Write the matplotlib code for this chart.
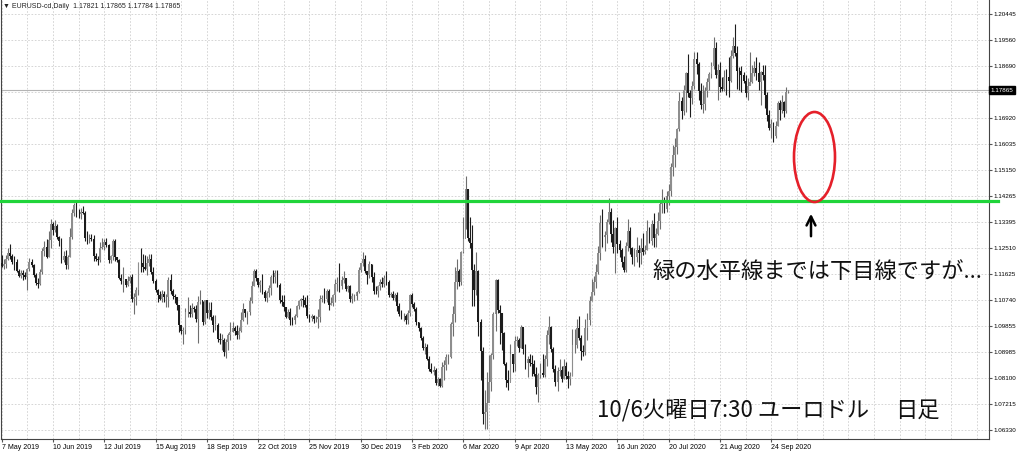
import matplotlib
matplotlib.use("Agg")
import matplotlib.pyplot as plt
import matplotlib.transforms as mtransforms
from matplotlib.patches import Ellipse
import numpy as np

# ── data (EURUSD daily, 7 May 2019 .. 6 Oct 2020, prices in 1e-4) ──────────

first_open = 11200

closes = [
    # May 2019
    11191, 11196, 11214, 11233, 11224, 11205, 11203, 11173, 11157, 11165,
    11160, 11151, 11181, 11203, 11193, 11159, 11131, 11130, 11169,
    # Jun 2019
    11240, 11253, 11221, 11277, 11334, 11313, 11327, 11290, 11274, 11210,
    11223, 11194, 11222, 11290, 11369, 11398, 11367, 11366, 11372, 11370,
    # Jul 2019
    11286, 11284, 11285, 11283, 11225, 11213, 11209, 11252, 11254, 11271,
    11261, 11210, 11224, 11275, 11219, 11209, 11150, 11139, 11146, 11127,
    11140, 11153, 11077,
    # Aug 2019
    11084, 11108, 11200, 11199, 11188, 11180, 11201, 11215, 11170, 11139,
    11107, 11090, 11078, 11095, 11083, 11083, 11143, 11106, 11089, 11085,
    11057, 10988,
    # Sep 2019
    10970, 10973, 11033, 11033, 11027, 11047, 11043, 11009, 11066, 11073,
    11001, 11073, 11029, 11041, 11017, 10991, 10991, 10941, 10940, 10940,
    10899,
    # Oct 2019
    10933, 10957, 10967, 10978, 10970, 10955, 10970, 11006, 11043, 11029,
    11034, 11072, 11123, 11172, 11149, 11125, 11136, 11103, 11080, 11098,
    11116, 11153, 11152,
    # Nov 2019
    11166, 11127, 11074, 11068, 11051, 11018, 11032, 11007, 11006, 11021,
    11053, 11071, 11078, 11073, 11058, 11021, 11013, 11019, 11009, 11010,
    11018,
    # Dec 2019
    11079, 11081, 11078, 11104, 11058, 11064, 11092, 11130, 11130, 11122,
    11143, 11150, 11111, 11122, 11078, 11088, 11089, 11100, 11177, 11199,
    11212,
    # Jan 2020
    11172, 11160, 11195, 11151, 11106, 11104, 11121, 11135, 11128, 11150,
    11136, 11090, 11095, 11082, 11091, 11055, 11026, 11019, 11020, 11008,
    11031, 11093,
    # Feb 2020
    11060, 11044, 10998, 10980, 10945, 10910, 10915, 10873, 10841, 10830,
    10838, 10791, 10805, 10783, 10848, 10853, 10881, 10882, 10992, 11026,
    # Mar 2020
    11137, 11174, 11135, 11238, 11283, 11450, 11285, 11269, 11176, 11108,
    11173, 10998, 10902, 10688, 10695, 10723, 10797, 10886, 11028, 11141,
    11040, 11029,
    # Apr 2020
    10962, 10856, 10804, 10793, 10892, 10856, 10935, 10940, 10913, 10984,
    10907, 10861, 10874, 10862, 10856, 10822, 10778, 10819, 10826, 10820,
    10873, 10955,
    # May 2020
    10982, 10908, 10840, 10795, 10835, 10838, 10806, 10850, 10818, 10805,
    10818, 10920, 10921, 10979, 10947, 10902, 10898, 10979, 11008, 11072,
    11101,
    # Jun 2020
    11135, 11170, 11233, 11337, 11290, 11294, 11340, 11372, 11297, 11256,
    11318, 11265, 11243, 11205, 11177, 11257, 11308, 11250, 11219, 11219,
    11245, 11233,
    # Jul 2020
    11251, 11238, 11245, 11309, 11276, 11331, 11286, 11300, 11343, 11400,
    11410, 11383, 11428, 11443, 11526, 11568, 11595, 11654, 11750, 11715,
    11789, 11846, 11777,
    # Aug 2020
    11761, 11800, 11892, 11875, 11785, 11736, 11739, 11785, 11813, 11842,
    11870, 11931, 11837, 11857, 11797, 11792, 11832, 11830, 11818, 11904,
    11936,
    # Sep 2020
    11914, 11853, 11852, 11838, 11819, 11776, 11800, 11813, 11846, 11862,
    11845, 11815, 11848, 11838, 11770, 11704, 11658, 11672, 11631, 11664,
    11745, 11719,
    # Oct 2020
    11746, 11717, 11782, 11787,
]

highs = [
    11226, 11215, 11228, 11252, 11264, 11230, 11223, 11214, 11180, 11175,
    11175, 11170, 11184, 11216, 11215, 11197, 11166, 11150, 11180,
    11252, 11276, 11283, 11309, 11348, 11338, 11347, 11334, 11292, 11284,
    11240, 11244, 11226, 11318, 11384, 11403, 11412, 11385, 11388, 11392,
    11375, 11310, 11300, 11299, 11294, 11233, 11225, 11273, 11286, 11280,
    11286, 11265, 11228, 11282, 11283, 11222, 11212, 11163, 11187, 11147,
    11155, 11160, 11164,
    11099, 11117, 11205, 11250, 11230, 11227, 11225, 11231, 11231, 11187,
    11146, 11112, 11104, 11109, 11106, 11095, 11153, 11163, 11112, 11095,
    11084, 11054,
    10985, 10982, 11048, 11084, 11058, 11064, 11055, 11057, 11087, 11109,
    11070, 11075, 11076, 11069, 11069, 11025, 11025, 10997, 10961, 10960,
    10945,
    10943, 10963, 10999, 10999, 10986, 10990, 10984, 11034, 11063, 11045,
    11038, 11086, 11140, 11179, 11179, 11150, 11141, 11163, 11110, 11106,
    11126, 11160, 11175,
    11177, 11176, 11132, 11092, 11093, 11052, 11044, 11047, 11016, 11027,
    11058, 11074, 11082, 11090, 11086, 11093, 11027, 11028, 11025, 11020,
    11043,
    11090, 11092, 11116, 11111, 11111, 11086, 11096, 11145, 11154, 11199,
    11155, 11174, 11150, 11126, 11126, 11098, 11095, 11104, 11188, 11201,
    11239,
    11226, 11174, 11206, 11196, 11171, 11122, 11125, 11145, 11153, 11159,
    11173, 11143, 11103, 11106, 11097, 11101, 11063, 11042, 11030, 11027,
    11042, 11096,
    11097, 11069, 11049, 11001, 10982, 10952, 10927, 10926, 10884, 10862,
    10849, 10844, 10814, 10808, 10863, 10870, 10892, 10892, 11000, 11053,
    11186, 11213, 11181, 11240, 11356, 11496, 11450, 11356, 11329, 11197,
    11237, 11176, 11010, 10914, 10768, 10829, 10888, 10896, 11034, 11147,
    11146, 11059,
    11030, 10967, 10865, 10837, 10926, 10890, 10952, 10952, 10944, 10990,
    10979, 10926, 10885, 10892, 10887, 10869, 10848, 10827, 10859, 10892,
    10887, 10973,
    11019, 10985, 10916, 10852, 10846, 10875, 10850, 10874, 10864, 10832,
    10831, 10976, 10976, 11009, 11020, 10957, 10920, 11009, 11030, 11088,
    11146,
    11155, 11196, 11258, 11362, 11384, 11309, 11349, 11422, 11387, 11346,
    11321, 11355, 11278, 11250, 11225, 11270, 11349, 11322, 11256, 11250,
    11289, 11260,
    11285, 11302, 11260, 11346, 11321, 11345, 11371, 11319, 11374, 11411,
    11452, 11424, 11443, 11468, 11540, 11601, 11624, 11660, 11781, 11763,
    11806, 11848, 11909,
    11788, 11819, 11916, 11917, 11884, 11810, 11806, 11799, 11829, 11849,
    11883, 11966, 11951, 11877, 11884, 11832, 11855, 11860, 11900, 11924,
    11966,
    12011, 11938, 11866, 11869, 11850, 11838, 11829, 11917, 11872, 11887,
    11900, 11882, 11851, 11873, 11872, 11780, 11720, 11688, 11679, 11682,
    11750, 11753,
    11770, 11750, 11798, 11787,
]

lows = [
    11187, 11178, 11182, 11209, 11213, 11196, 11176, 11170, 11152, 11150,
    11142, 11145, 11107, 11172, 11186, 11152, 11125, 11116, 11126,
    11164, 11224, 11216, 11221, 11252, 11294, 11305, 11282, 11259, 11200,
    11203, 11181, 11180, 11220, 11282, 11361, 11355, 11353, 11349, 11365,
    11276, 11265, 11268, 11275, 11207, 11206, 11193, 11204, 11247, 11245,
    11255, 11201, 11200, 11210, 11206, 11202, 11146, 11128, 11101, 11120,
    11122, 11132, 11067,
    11027, 11059, 11091, 11170, 11168, 11175, 11160, 11190, 11164, 11133,
    11100, 11066, 11075, 11066, 11066, 11050, 11052, 11094, 11077, 11065,
    11042, 10965,
    10958, 10926, 10960, 11015, 11015, 11017, 11032, 10998, 10927, 11060,
    10990, 10994, 11013, 11011, 11006, 10966, 10974, 10932, 10925, 10903,
    10885,
    10879, 10903, 10939, 10965, 10955, 10941, 10942, 10967, 11002, 11017,
    10993, 11023, 11065, 11123, 11139, 11118, 11100, 11094, 11072, 11067,
    11086, 11092, 11132,
    11132, 11120, 11064, 11055, 11036, 11013, 11013, 10989, 10989, 10992,
    11015, 11045, 11053, 11051, 11052, 11014, 10999, 11004, 10997, 10998,
    10981,
    11000, 11066, 11065, 11069, 11040, 11056, 11055, 11066, 11105, 11103,
    11113, 11133, 11106, 11100, 11066, 11065, 11072, 11074, 11097, 11170,
    11190,
    11165, 11128, 11150, 11135, 11095, 11096, 11085, 11110, 11117, 11118,
    11125, 11086, 11083, 11073, 11071, 11036, 11019, 11010, 11003, 10993,
    10992, 11019,
    11052, 11038, 10991, 10969, 10939, 10904, 10890, 10869, 10832, 10827,
    10820, 10787, 10784, 10778, 10780, 10802, 10838, 10858, 10876, 10952,
    11000, 11111, 11123, 11127, 11234, 11317, 11275, 11252, 11055, 11054,
    11091, 10953, 10802, 10654, 10636, 10636, 10743, 10766, 10874, 10969,
    11030, 10925,
    10905, 10853, 10779, 10768, 10800, 10830, 10832, 10917, 10897, 10913,
    10890, 10841, 10812, 10849, 10816, 10815, 10756, 10727, 10808, 10812,
    10813, 10850,
    10925, 10897, 10830, 10782, 10766, 10817, 10795, 10806, 10806, 10775,
    10787, 10815, 10895, 10912, 10938, 10871, 10885, 10887, 10939, 10988,
    11070,
    11093, 11115, 11164, 11209, 11254, 11241, 11268, 11334, 11270, 11234,
    11167, 11233, 11220, 11188, 11168, 11168, 11241, 11231, 11197, 11189,
    11202, 11188,
    11196, 11226, 11232, 11243, 11269, 11262, 11254, 11255, 11296, 11315,
    11370, 11371, 11372, 11397, 11426, 11495, 11525, 11569, 11648, 11690,
    11703, 11712, 11763,
    11696, 11741, 11792, 11842, 11753, 11722, 11711, 11718, 11764, 11788,
    11829, 11859, 11828, 11753, 11781, 11785, 11783, 11772, 11764, 11813,
    11896,
    11904, 11790, 11789, 11781, 11810, 11765, 11752, 11806, 11810, 11834,
    11823, 11788, 11737, 11820, 11728, 11683, 11650, 11626, 11612, 11623,
    11666, 11684,
    11708, 11695, 11708, 11778,
]

date_bars = [0, 24, 48, 72, 96, 120, 144, 168, 192, 216, 240, 264, 288, 312, 336, 360]
date_labels = ["7 May 2019", "10 Jun 2019", "12 Jul 2019", "15 Aug 2019",
               "18 Sep 2019", "22 Oct 2019", "25 Nov 2019", "30 Dec 2019",
               "3 Feb 2020", "6 Mar 2020", "9 Apr 2020", "13 May 2020",
               "16 Jun 2020", "20 Jul 2020", "21 Aug 2020", "24 Sep 2020"]

price_levels = [1.20445, 1.19560, 1.18690, 1.17805, 1.16920, 1.16035, 1.15150,
                1.14265, 1.13395, 1.12510, 1.11625, 1.10740, 1.09855, 1.08985,
                1.08100, 1.07215, 1.06330]
price_labels = ["1.20445", "1.19560", "1.18690", "", "1.16920", "1.16035",
                "1.15150", "1.14265", "1.13395", "1.12510", "1.11625",
                "1.10740", "1.09855", "1.08985", "1.08100", "1.07215",
                "1.06330"]

last_price = 1.17865
green_level = 1.1409
title_text = "\u25bc EURUSD-cd,Daily  1.17821 1.17865 1.17784 1.17865"
note_text = "緑の水平線までは下目線ですが..."
date_text = "10/6火曜日7:30 ユーロドル"
tf_text = "日足"

# ── candles ──────────────────────────────────────────────────

c = np.array(closes) / 1e4
h = np.array(highs) / 1e4
l = np.array(lows) / 1e4
o = np.array([first_open] + closes[:-1]) / 1e4
x = np.arange(len(c))
up = c >= o

BULL = "#8e8e8e"
BULL_WICK = "#6e6e6e"
BEAR = "#1c1c1c"
GRID = "#cfcfcf"

W, H = 1024, 454
fig = plt.figure(figsize=(W / 100, H / 100), dpi=100)
ax = fig.add_axes([1 / W, 15 / H, 988 / W, 439 / H])

ax.vlines(x[up], l[up], h[up], color=BULL_WICK, lw=0.8, zorder=3)
ax.vlines(x[~up], l[~up], h[~up], color=BEAR, lw=0.8, zorder=3)
body = np.maximum(np.abs(c - o), 0.00005)
ax.bar(x[up], body[up], bottom=np.minimum(o, c)[up], width=0.85,
       color=BULL, linewidth=0, zorder=4)
ax.bar(x[~up], body[~up], bottom=np.minimum(o, c)[~up], width=0.85,
       color=BEAR, linewidth=0, zorder=4)

ax.set_xlim(-0.28, 461.8)
ax.set_ylim(1.06024, 1.20931)

# ── axes, grid, labels ───────────────────────────────────────

ax.set_xticks(date_bars)
ax.set_xticklabels(date_labels, fontsize=5, family="Liberation Sans")
for lbl in ax.get_xticklabels():
    lbl.set_ha("left")
ax.set_xticks([b for b in range(12, 462, 12) if b not in date_bars], minor=True)
ax.tick_params(axis="x", which="major", length=2, pad=1.5, color="#555555")
ax.tick_params(axis="x", which="minor", length=0)

ax.yaxis.tick_right()
ax.set_yticks(price_levels)
ax.set_yticklabels(price_labels, fontsize=4.5, family="Liberation Sans")
ax.tick_params(axis="y", length=2, pad=1.5, color="#555555")

ax.grid(True, which="both", axis="x", color=GRID, lw=0.6, linestyle=(0, (2, 2)))
ax.grid(True, which="major", axis="y", color=GRID, lw=0.6, linestyle=(0, (2, 2)))
ax.set_axisbelow(True)

for s in ["left", "right", "bottom"]:
    ax.spines[s].set_color("#444444")
    ax.spines[s].set_linewidth(0.8)
ax.spines["top"].set_visible(False)

# bid line and price tag
ax.axhline(last_price, color="#b4b4b4", lw=0.8, zorder=2)
trans = mtransforms.blended_transform_factory(ax.transAxes, ax.transData)
ax.text(1.0 + 1.5 / 988, last_price, "1.17865", transform=trans,
        fontsize=4.5, family="Liberation Sans", color="white", va="center",
        ha="left", bbox=dict(facecolor="black", edgecolor="black", pad=1.0))

fig.text(3 / W, 1 - 6 / H, title_text, fontsize=5,
         family=["Liberation Sans", "DejaVu Sans"], va="center", ha="left",
         color="#222222")

# ── annotations drawn on the screenshot ──────────────────────

ax.axhline(green_level, xmin=-1 / 988, xmax=(998 - 1) / 988, color="#20d43a",
           lw=2.3, clip_on=False, zorder=6)

fig.add_artist(Ellipse((814.5 / W, 1 - 157 / H), 41 / W, 90 / H,
                       transform=fig.transFigure, fill=False,
                       edgecolor="#e5202a", lw=1.9))

ax.annotate("", xy=(811, H - 211), xycoords="figure pixels",
            xytext=(811, H - 239), textcoords="figure pixels",
            arrowprops=dict(arrowstyle="->", lw=1.8, color="black",
                            mutation_scale=16))

jp = ["Noto Sans CJK JP", "DejaVu Sans"]
fig.text(652 / W, 1 - 271 / H, note_text, fontsize=16, family=jp,
         va="center", ha="left", color="#111111")
fig.text(597 / W, 1 - 410 / H, date_text, fontsize=16, family=jp,
         va="center", ha="left", color="#111111")
fig.text(895 / W, 1 - 410 / H, tf_text, fontsize=16, family=jp,
         va="center", ha="left", color="#111111")

fig.savefig("out.png", dpi=100)
